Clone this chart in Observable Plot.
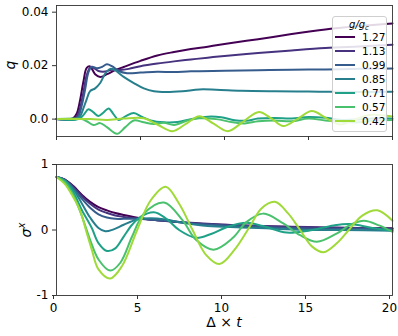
<!DOCTYPE html>
<html>
<head>
<meta charset="utf-8">
<script src="https://cdn.jsdelivr.net/npm/d3@7"></script>
<script src="https://cdn.jsdelivr.net/npm/@observablehq/plot@0.6"></script>
<style>
  html, body { margin: 0; padding: 0; background: white; }
  #chart { width: 398px; }
  #chart svg { display: block; }
</style>
</head>
<body>
<div id="chart"></div>
<script>
// ---- data ----
const tTicks = [0, 5, 10, 15, 20];
const qTicks = [0, 0.02, 0.04];
const sTicks = [-1, 0, 1];
const gLabels = ["1.27", "1.13", "0.99", "0.85", "0.71", "0.57", "0.42"];

// top panel: q(t), pairs [t, q]
const q127 = [[0,0],[0.8,0],[1.0,0.0004],[1.2,0.002],[1.4,0.007],[1.6,0.014],[1.8,0.0192],[2.0,0.0197],[2.3,0.0168],[2.6,0.0158],[3.0,0.0168],[3.5,0.0183],[4.0,0.0195],[5,0.0218],[6,0.0238],[7,0.0251],[8,0.0262],[9,0.0271],[10,0.0281],[12,0.0299],[14,0.0318],[16,0.0335],[18,0.0348],[20,0.0358]];
const q113 = [[0,0],[1.0,0],[1.2,0.0008],[1.4,0.004],[1.6,0.010],[1.8,0.0165],[2.0,0.0193],[2.2,0.0192],[2.5,0.018],[2.9,0.0178],[3.3,0.0185],[3.8,0.0184],[4.3,0.0188],[5,0.0198],[6,0.0208],[7,0.0216],[8,0.0223],[9,0.023],[10,0.0236],[12,0.0247],[14,0.0257],[16,0.0266],[18,0.0272],[20,0.0278]];
const q099 = [[0,0],[1.1,0],[1.3,0.001],[1.5,0.005],[1.7,0.011],[1.9,0.0175],[2.1,0.0196],[2.4,0.019],[2.7,0.0195],[3.0,0.0205],[3.3,0.0198],[3.7,0.018],[4.2,0.0172],[5,0.0174],[6,0.0177],[7,0.0176],[8,0.0179],[10,0.0181],[12,0.0183],[14,0.0185],[16,0.0186],[18,0.0188],[20,0.0189]];
const q085 = [[0,0],[1.2,0],[1.4,0.001],[1.6,0.004],[1.8,0.0075],[2.0,0.0105],[2.3,0.0115],[2.6,0.0135],[2.9,0.017],[3.2,0.0188],[3.5,0.0182],[4.0,0.0158],[4.6,0.0135],[5.2,0.0115],[5.8,0.0104],[6.5,0.0101],[7.5,0.0104],[8.5,0.0111],[9.5,0.011],[11,0.0106],[13,0.0104],[15,0.0103],[17,0.0102],[20,0.0102]];
const q071 = [[0,0],[1.3,0],[1.6,0.0015],[1.9,0.0037],[2.2,0.0025],[2.5,0.0012],[2.8,0.0025],[3.1,0.004],[3.4,0.0018],[3.7,-0.0003],[4.1,0.001],[4.6,0.0023],[5.1,0.0008],[5.6,-0.0005],[6.4,-0.0012],[7.2,-0.0011],[8,0],[9,0.0009],[9.8,0.0007],[10.6,-0.0004],[11.3,-0.0006],[12,0.0002],[13,0.0004],[14,0.0002],[15,0.0008],[16,0.0005],[17,-0.0003],[18,-0.0001],[19,0.0003],[20,0.0002]];
const q057 = [[0,0],[1.5,0],[1.8,-0.0008],[2.2,-0.0022],[2.6,-0.0015],[3.0,-0.003],[3.6,-0.0055],[4.1,-0.003],[4.6,-0.0005],[5.2,-0.0012],[5.8,-0.0018],[6.4,-0.0014],[7.0,-0.0022],[7.8,-0.0005],[8.5,0.0003],[9.5,0],[10.5,-0.0012],[11.2,-0.0016],[12,-0.0008],[13,-0.0005],[14,-0.0008],[15,0.0002],[16,-0.0005],[17,-0.001],[18,-0.0012],[19,-0.0005],[20,-0.0003]];
const q042 = [[0,0],[2,0],[3,-0.0003],[4,0.0002],[5.2,0.0003],[6.0,-0.002],[6.9,-0.0045],[7.7,-0.0018],[8.5,0.0011],[9.35,-0.0017],[10.2,-0.0045],[11.1,-0.001],[12.05,0.0027],[12.8,0.0002],[13.5,-0.0026],[14.35,0.0001],[15.2,0.003],[16.05,0.0004],[16.9,-0.002],[17.75,-0.0002],[18.6,0.0015],[20,0.001]];

// bottom panel: sigma^x(t), pairs [t, s]
const s127 = [[0,0.81],[0.5,0.77],[1,0.67],[1.5,0.54],[2,0.43],[2.5,0.35],[3,0.3],[3.5,0.26],[4,0.23],[5,0.18],[6,0.15],[7,0.125],[8,0.105],[10,0.08],[12,0.06],[14,0.045],[16,0.035],[18,0.03],[20,0.025]];
const s113 = [[0,0.81],[0.5,0.77],[1,0.66],[1.5,0.52],[2,0.4],[2.5,0.31],[3,0.26],[3.5,0.22],[4,0.2],[5,0.17],[6,0.15],[7,0.13],[8,0.11],[10,0.08],[12,0.06],[14,0.05],[16,0.04],[18,0.03],[20,0.02]];
const s099 = [[0,0.81],[0.5,0.76],[1,0.64],[1.5,0.48],[2,0.34],[2.5,0.24],[3,0.19],[3.5,0.17],[4,0.17],[5,0.17],[6,0.15],[7,0.13],[8,0.1],[10,0.07],[12,0.05],[14,0.03],[16,0.02],[18,0.02],[20,0.01]];
const s085 = [[0,0.81],[0.5,0.76],[1,0.62],[1.5,0.41],[2,0.19],[2.5,0.03],[2.9,-0.02],[3.4,0.01],[4,0.08],[4.8,0.16],[5.6,0.18],[6.5,0.16],[7.5,0.11],[9,0.06],[11,0.04],[13,0.02],[15,0.0],[17,0.0],[20,-0.01]];
const s071 = [[0,0.81],[0.5,0.75],[1,0.58],[1.5,0.31],[2.1,0.03],[2.5,-0.2],[3,-0.32],[3.5,-0.28],[4,-0.1],[4.5,0.08],[5,0.2],[5.8,0.27],[6.5,0.18],[7.3,0.0],[8.3,-0.12],[9.2,-0.06],[10.2,0.05],[11.3,0.11],[12.3,0.06],[13.7,-0.04],[15,-0.01],[16.5,0.07],[17.5,0.09],[18.8,0.03],[20,-0.01]];
const s057 = [[0,0.81],[0.5,0.73],[1,0.53],[1.5,0.22],[2,-0.15],[2.5,-0.45],[3.2,-0.62],[3.8,-0.5],[4.5,-0.1],[5.2,0.25],[6.4,0.42],[7.5,0.15],[8.3,-0.15],[9.35,-0.3],[10.5,-0.12],[11.3,0.12],[12.3,0.25],[13.5,0.1],[14.5,-0.08],[15.5,-0.18],[16.7,-0.05],[17.5,0.08],[18.3,0.14],[19.2,0.07],[20,-0.03]];
const s042 = [[0,0.81],[0.5,0.7],[1,0.5],[1.4,0.3],[1.75,0.0],[2.1,-0.3],[2.5,-0.6],[3.2,-0.74],[3.9,-0.55],[4.8,0.0],[5.6,0.45],[6.5,0.66],[7.3,0.4],[8.1,0.0],[8.9,-0.38],[9.7,-0.52],[10.6,-0.3],[11.5,0.05],[12.2,0.33],[13.0,0.43],[13.8,0.25],[14.5,0.0],[15.2,-0.25],[15.9,-0.34],[16.7,-0.2],[17.4,0.0],[18.2,0.22],[19.1,0.3],[20,0.14]];

const qSeries = [q127, q113, q099, q085, q071, q057, q042];
const sSeries = [s127, s113, s099, s085, s071, s057, s042];

// ---- build ----
const colors = gLabels.map((_, i) => d3.interpolateViridis(i / 7));
const toRows = (series) => series.flatMap((arr, i) => arr.map(([t, v]) => ({t, v, g: gLabels[i]})));
const qRows = toRows(qSeries);
const sRows = toRows(sSeries);

const font = "DejaVu Sans, Liberation Sans, sans-serif";
const common = {
  width: 398, marginLeft: 56, marginRight: 6,
  style: {fontFamily: font, fontSize: "12px", background: "white", color: "black"},
  color: {domain: gLabels, range: colors},
};
const frameColor = "#333";

const topPlot = Plot.plot({
  ...common,
  height: 150, marginTop: 5, marginBottom: 14,
  x: {domain: [0, 20]},
  y: {domain: [-0.0065, 0.0425]},
  marks: [
    Plot.line(qRows, {x: "t", y: "v", z: "g", stroke: "g", strokeWidth: 2, curve: "catmull-rom"}),
    Plot.frame({stroke: frameColor, strokeWidth: 0.9}),
    Plot.axisX({ticks: tTicks, tickSize: 4, tickFormat: () => "", label: null, stroke: frameColor}),
    Plot.axisY({ticks: qTicks, tickSize: 4, tickPadding: 4, label: null, stroke: frameColor,
      tickFormat: d => d === 0 ? "0.0" : String(d)})
  ]
});

const bottomPlot = Plot.plot({
  ...common,
  height: 186, marginTop: 14, marginBottom: 41,
  x: {domain: [0, 20]},
  y: {domain: [-1, 1]},
  marks: [
    Plot.line(sRows, {x: "t", y: "v", z: "g", stroke: "g", strokeWidth: 2, curve: "catmull-rom"}),
    Plot.frame({stroke: frameColor, strokeWidth: 0.9}),
    Plot.axisX({ticks: tTicks, tickSize: 4, tickPadding: 4, label: null, stroke: frameColor, dx: -3,
      tickFormat: d => String(d)}),
    Plot.axisY({ticks: sTicks, tickSize: 4, tickPadding: 4, label: null, stroke: frameColor,
      tickFormat: d => d < 0 ? "-" + Math.abs(d) : String(d)})
  ]
});

const chart = document.getElementById("chart");
chart.appendChild(topPlot);
chart.appendChild(bottomPlot);

// axis label (top)
const ts = d3.select(topPlot);
ts.append("text")
  .attr("transform", "translate(15,65) rotate(-90)")
  .attr("text-anchor", "middle")
  .attr("font-family", font).attr("font-size", 14).attr("font-style", "italic")
  .attr("fill", "black")
  .text("q");

// legend (inside the top axes, upper right)
const lg = ts.append("g").attr("font-family", font).attr("text-anchor", "start");
lg.append("rect").attr("x", 332.5).attr("y", 16.5).attr("width", 54).attr("height", 115)
  .attr("rx", 2.5).style("fill", "rgba(255,255,255,0.85)")
  .style("stroke", "#cfcfcf").style("stroke-width", "1px");
const title = lg.append("text").attr("x", 359).attr("y", 27.5).attr("text-anchor", "middle")
  .attr("font-size", 10).attr("font-style", "italic").attr("fill", "black");
title.append("tspan").text("g/g");
title.append("tspan").attr("dy", 2).attr("font-size", 7).text("c");
gLabels.forEach((g, i) => {
  const y = 37 + 14 * i;
  lg.append("line").attr("x1", 335).attr("x2", 355).attr("y1", y).attr("y2", y)
    .style("stroke", colors[i]).style("stroke-width", "2px");
  lg.append("text").attr("x", 362).attr("y", y).attr("dy", "0.35em")
    .attr("text-anchor", "start").attr("fill", "black")
    .attr("font-size", 10.5).text(g);
});

// axis labels (bottom)
const bs = d3.select(bottomPlot);
const sl = bs.append("text")
  .attr("transform", "translate(31,80) rotate(-90)")
  .attr("text-anchor", "middle").attr("fill", "black")
  .attr("font-family", font).attr("font-size", 14);
sl.append("tspan").attr("font-style", "italic").text("σ");
sl.append("tspan").attr("dy", -6).attr("font-size", 10).attr("font-style", "italic").text("x");

const xl = bs.append("text")
  .attr("x", 224).attr("y", 177)
  .attr("text-anchor", "middle").attr("fill", "black")
  .attr("font-family", font).attr("font-size", 14);
xl.append("tspan").text("Δ × ");
xl.append("tspan").attr("font-style", "italic").text("t");
</script>
</body>
</html>
